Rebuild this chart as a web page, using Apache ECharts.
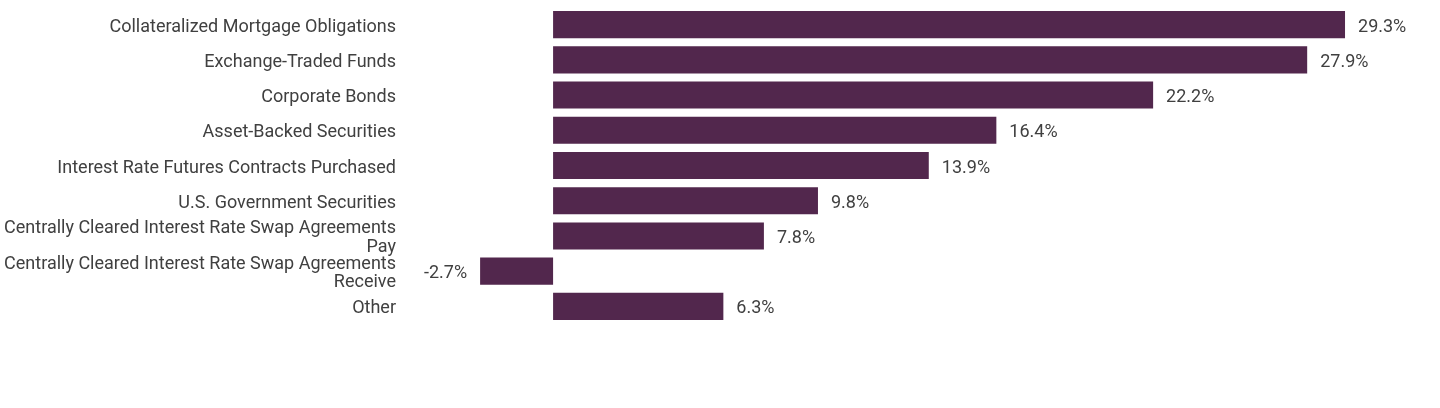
<!DOCTYPE html>
<html>
<head>
<meta charset="utf-8">
<script src="https://cdn.jsdelivr.net/npm/echarts@6/dist/echarts.min.js"></script>
<style>
  html, body { margin: 0; padding: 0; background: #fff; }
  #chart { width: 1440px; height: 408px; }
</style>
</head>
<body>
<div id="chart"></div>
<script>
var categories = [
  'Collateralized Mortgage Obligations',
  'Exchange-Traded Funds',
  'Corporate Bonds',
  'Asset-Backed Securities',
  'Interest Rate Futures Contracts Purchased',
  'U.S. Government Securities',
  'Centrally Cleared Interest Rate Swap Agreements\nPay',
  'Centrally Cleared Interest Rate Swap Agreements\nReceive',
  'Other'
];
var values = [29.3, 27.9, 22.2, 16.4, 13.9, 9.8, 7.8, -2.7, 6.3];

var fontName = '"Liberation Sans Narrow", "Roboto", sans-serif';
var textStyle = { color: '#404040', fontSize: 18, fontFamily: fontName };

var chart = echarts.init(document.getElementById('chart'));
var option = {
  animation: false,
  grid: { left: 472, right: 22, top: 7, bottom: 84, containLabel: false },
  xAxis: {
    type: 'value',
    min: -3,
    max: 32,
    show: false
  },
  yAxis: {
    type: 'category',
    inverse: true,
    data: categories,
    axisLine: { show: false },
    axisTick: { show: false },
    splitLine: { show: false },
    axisLabel: {
      margin: 76,
      formatter: function (v) {
        var parts = v.split('\n');
        if (parts.length === 1) return '{a|' + v + '}';
        return '{b|' + parts[0] + '}\n{c|' + parts[1] + '}';
      },
      rich: {
        a: Object.assign({ lineHeight: 15, padding: [5, 0, 0, 0] }, textStyle),
        b: Object.assign({ lineHeight: 20, padding: [6, 0, 0, 0] }, textStyle),
        c: Object.assign({ lineHeight: 20, padding: [3, 0, 0, 0] }, textStyle)
      }
    }
  },
  series: [{
    type: 'bar',
    barCategoryGap: '23%',
    itemStyle: { color: '#52274d' },
    data: values.map(function (v) {
      return {
        value: v,
        label: { position: v < 0 ? 'left' : 'right' }
      };
    }),
    label: Object.assign({
      show: true,
      distance: 13,
      offset: [0, 2.5],
      formatter: function (p) { return p.value.toFixed(1) + '%'; }
    }, textStyle)
  }]
};
chart.setOption(option);
</script>
</body>
</html>
